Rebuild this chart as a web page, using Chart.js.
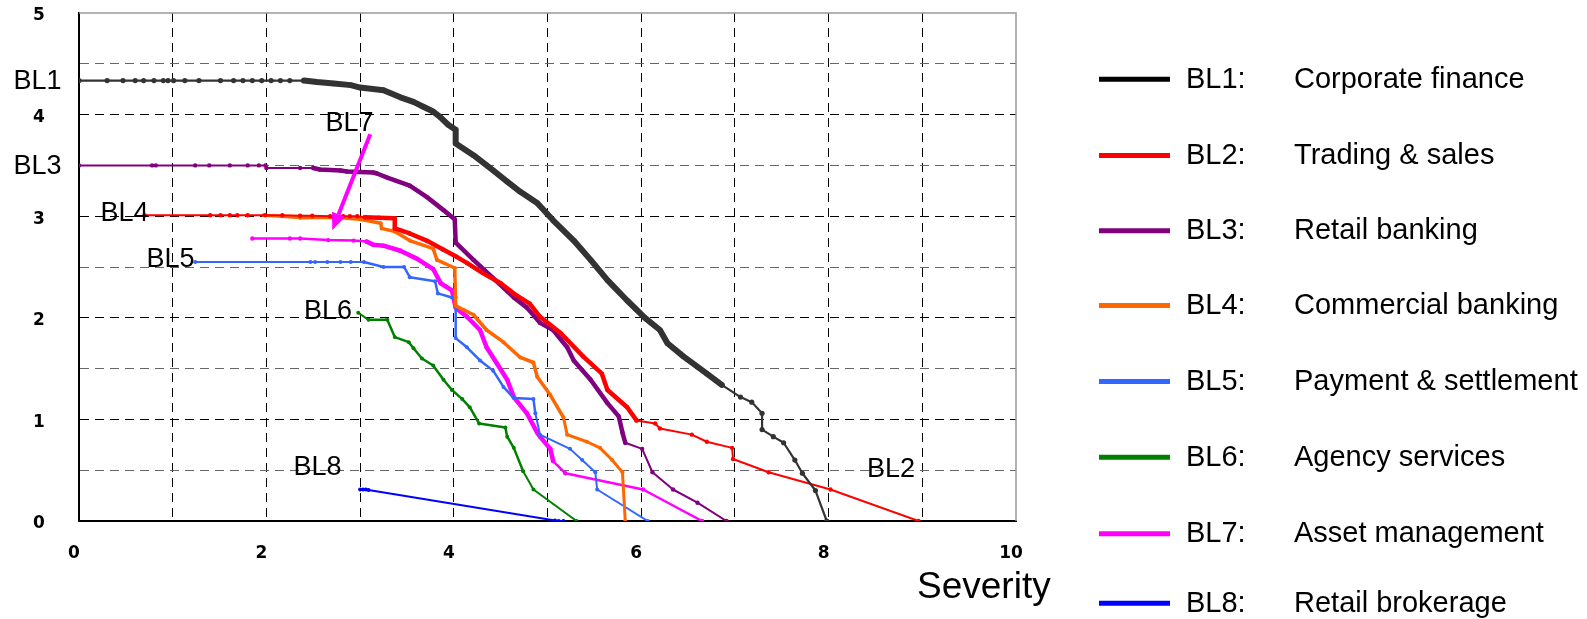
<!DOCTYPE html>
<html>
<head>
<meta charset="utf-8">
<title>Severity by business line</title>
<script src="https://cdn.jsdelivr.net/npm/chart.js@4.4.1/dist/chart.umd.min.js"></script>
<style>
  html, body { margin: 0; padding: 0; background: #fff; }
  #wrap { position: relative; width: 1587px; height: 619px; }
</style>
</head>
<body>
<div id="wrap"><canvas id="lossChart" width="1587" height="619"></canvas></div>
<script>
'use strict';
// ******* Business lines *******
const lineCodes = ['BL1', 'BL2', 'BL3', 'BL4', 'BL5', 'BL6', 'BL7', 'BL8'];
const lineNames = ['Corporate finance', 'Trading & sales', 'Retail banking', 'Commercial banking',
  'Payment & settlement', 'Agency services', 'Asset management', 'Retail brokerage'];
const lineColors = ['#333333', '#ff0000', '#800080', '#ff6600', '#3366ff', '#008000', '#ff00ff', '#0000ff'];
const keyColors = ['#000000', '#ff0000', '#800080', '#ff6600', '#3366ff', '#008000', '#ff00ff', '#0000ff'];

// ******* Curves: [severity, value] *******
const bl1 = [[0, 4.335], [0.30, 4.335], [0.47, 4.335], [0.60, 4.335], [0.69, 4.335], [0.80, 4.335], [0.90, 4.335],
  [0.95, 4.335], [1.01, 4.335], [1.13, 4.335], [1.28, 4.335], [1.51, 4.335], [1.65, 4.335], [1.75, 4.335],
  [1.85, 4.335], [1.95, 4.335], [2.05, 4.335], [2.15, 4.335], [2.25, 4.335], [2.40, 4.335], [2.54, 4.32],
  [2.72, 4.305], [2.90, 4.29], [3.00, 4.266], [3.25, 4.24], [3.43, 4.17], [3.57, 4.125], [3.68, 4.075],
  [3.78, 4.03], [3.85, 3.98], [3.94, 3.90], [4.02, 3.85], [4.02, 3.715], [4.21, 3.60], [4.42, 3.45],
  [4.57, 3.34], [4.71, 3.24], [4.89, 3.13], [5.06, 2.96], [5.28, 2.76], [5.46, 2.57], [5.64, 2.37],
  [5.85, 2.17], [6.04, 2.00], [6.20, 1.88], [6.28, 1.75], [6.45, 1.62], [6.70, 1.45], [6.86, 1.34],
  [7.06, 1.22], [7.18, 1.17], [7.29, 1.06], [7.29, 0.90], [7.41, 0.83], [7.52, 0.77], [7.64, 0.60],
  [7.72, 0.47], [7.86, 0.30], [7.98, 0]];
const bl2 = [[0.70, 3.01], [1.40, 3.01], [1.51, 3.01], [1.61, 3.01], [1.69, 3.01], [1.80, 3.01], [1.99, 3.01],
  [2.17, 3.01], [2.36, 3.005], [2.49, 3.005], [2.68, 3.0], [2.82, 3.0], [2.89, 3.0], [2.97, 3.0], [3.05, 2.99],
  [3.20, 2.985], [3.37, 2.98], [3.37, 2.88], [3.53, 2.83], [3.71, 2.76], [3.89, 2.67], [4.03, 2.60],
  [4.14, 2.54], [4.31, 2.44], [4.50, 2.34], [4.67, 2.22], [4.81, 2.14], [4.92, 2.01], [5.14, 1.85],
  [5.38, 1.62], [5.58, 1.45], [5.64, 1.29], [5.85, 1.12], [5.95, 0.99], [6.15, 0.96], [6.20, 0.91],
  [6.54, 0.85], [6.70, 0.78], [6.97, 0.72], [6.98, 0.61], [7.36, 0.48], [8.02, 0.31], [8.96, 0]];
const bl3 = [[0, 3.50], [0.78, 3.50], [0.82, 3.50], [1.24, 3.50], [1.39, 3.50], [1.61, 3.50], [1.80, 3.50],
  [1.92, 3.50], [1.99, 3.50], [2.00, 3.475], [2.36, 3.475], [2.50, 3.475], [2.57, 3.46], [2.79, 3.45],
  [2.86, 3.44], [3.14, 3.43], [3.18, 3.42], [3.29, 3.38], [3.53, 3.30], [3.71, 3.19], [3.89, 3.06],
  [4.01, 2.97], [4.02, 2.74], [4.21, 2.57], [4.42, 2.39], [4.64, 2.20], [4.78, 2.10], [4.92, 1.95],
  [5.06, 1.88], [5.21, 1.71], [5.28, 1.58], [5.46, 1.39], [5.64, 1.16], [5.76, 1.03], [5.80, 0.87],
  [5.83, 0.77], [6.01, 0.71], [6.12, 0.48], [6.34, 0.31], [6.60, 0.18], [6.91, 0]];
const bl4 = [[1.97, 3.01], [2.36, 2.985], [2.72, 2.99], [3.00, 2.97], [3.22, 2.93], [3.23, 2.88], [3.37, 2.85],
  [3.53, 2.76], [3.78, 2.68], [3.82, 2.57], [4.01, 2.49], [4.02, 2.12], [4.10, 2.08], [4.21, 2.03],
  [4.35, 1.88], [4.53, 1.76], [4.71, 1.61], [4.85, 1.56], [4.89, 1.42], [5.03, 1.24], [5.17, 1.02],
  [5.21, 0.85], [5.42, 0.78], [5.56, 0.72], [5.69, 0.60], [5.80, 0.48], [5.83, 0]];
const bl5 = [[1.24, 2.55], [2.47, 2.55], [2.52, 2.55], [2.65, 2.55], [2.79, 2.55], [2.90, 2.55], [3.04, 2.55],
  [3.25, 2.50], [3.47, 2.50], [3.53, 2.40], [3.80, 2.36], [3.83, 2.24], [3.98, 2.20], [4.02, 2.20],
  [4.02, 1.80], [4.14, 1.71], [4.28, 1.58], [4.42, 1.48], [4.53, 1.32], [4.64, 1.21], [4.85, 1.20],
  [4.87, 1.06], [4.92, 0.85], [5.24, 0.71], [5.37, 0.60], [5.51, 0.48], [5.53, 0.31], [6.07, 0]];
const bl6 = [[2.98, 2.05], [3.09, 1.98], [3.29, 1.98], [3.37, 1.81], [3.52, 1.76], [3.57, 1.70], [3.66, 1.60],
  [3.78, 1.53], [3.89, 1.39], [3.98, 1.29], [4.09, 1.20], [4.17, 1.12], [4.27, 0.96], [4.55, 0.92],
  [4.57, 0.83], [4.64, 0.72], [4.74, 0.49], [4.85, 0.31], [5.31, 0]];
const bl7 = [[1.85, 2.78], [2.25, 2.78], [2.36, 2.78], [2.66, 2.765], [2.93, 2.76], [3.07, 2.75], [3.14, 2.72],
  [3.25, 2.71], [3.43, 2.66], [3.61, 2.58], [3.78, 2.48], [3.86, 2.34], [3.98, 2.27], [4.02, 2.10],
  [4.14, 2.01], [4.28, 1.88], [4.35, 1.71], [4.46, 1.55], [4.57, 1.39], [4.64, 1.22], [4.78, 1.06],
  [4.89, 0.87], [4.92, 0.83], [5.03, 0.71], [5.06, 0.59], [5.19, 0.47], [6.02, 0.31], [6.65, 0]];
const bl8 = [[3.00, 0.31], [3.03, 0.31], [3.06, 0.31], [3.09, 0.305], [5.08, 0.005], [5.12, 0], [5.17, 0]];
const curves = [bl1, bl2, bl3, bl4, bl5, bl6, bl7, bl8];

// ******* Axes *******
const xTickLabels = [0, 2, 4, 6, 8, 10];
const yTickLabels = [0, 1, 2, 3, 4, 5];

// tag text anchors on the plot, axis units (left edge, baseline)
const tagSpots = [[-0.70, 4.25], [8.41, 0.43], [-0.70, 3.42], [0.23, 2.95], [0.72, 2.50], [2.40, 1.99], [2.63, 3.84], [2.29, 0.45]];
// the BL7 pointer, tail then head
const pointerFrom = [3.108, 3.807];
const pointerTo = [2.703, 2.862];

// line weights: thin base, heavier where the observations pile up
const lineStyles = [
  { base: 2.2, heavy: 6, from: 2.4, to: 7.0, dot: 2.6 },
  { base: 2, heavy: 4.5, from: 3.0, to: 5.96, dot: 2.2 },
  { base: 2, heavy: 4.5, from: 2.5, to: 5.84, dot: 2.2 },
  { base: 3, heavy: 3.5, from: 2.0, to: 5.2, dot: 2 },
  { base: 2, heavy: 2.5, from: 3.0, to: 4.9, dot: 2 },
  { base: 2, heavy: 2.5, from: 3.0, to: 4.8, dot: 2 },
  { base: 2.5, heavy: 4.5, from: 3.0, to: 5.07, dot: 2.2 },
  { base: 2, heavy: 2, from: 0, to: 0, dot: 2 }
];

const fontFamily = '"Liberation Sans", Arial, sans-serif';
const tickFont = { family: '"DejaVu Sans", sans-serif', size: 17, weight: 'bold' };

// ****** Datasets ******
let datasets = [];
for (let i = 0; i < curves.length; i++) {
  let st = lineStyles[i];
  datasets.push({
    label: lineCodes[i],
    data: curves[i].map(p => ({ x: p[0], y: p[1] })),
    showLine: true,
    borderColor: lineColors[i],
    backgroundColor: lineColors[i],
    borderWidth: st.base,
    borderJoinStyle: 'round',
    borderCapStyle: 'round',
    pointRadius: st.dot,
    pointBorderWidth: 0,
    pointBackgroundColor: lineColors[i],
    segment: {
      borderWidth: ctx => (ctx.p0.parsed.x >= st.from && ctx.p1.parsed.x <= st.to) ? st.heavy : st.base
    }
  });
}

// top and right edges of the plot frame
const plotFrame = {
  id: 'plotFrame',
  beforeDatasetsDraw(chart) {
    let a = chart.chartArea;
    let c = chart.ctx;
    c.save();
    c.strokeStyle = '#999';
    c.lineWidth = 1.5;
    c.beginPath();
    c.moveTo(a.left, a.top);
    c.lineTo(a.right, a.top);
    c.lineTo(a.right, a.bottom);
    c.stroke();
    c.restore();
  }
};

// BL tags, pointer, axis caption and the legend block
const notes = {
  id: 'notes',
  afterDatasetsDraw(chart) {
    let c = chart.ctx;
    let xs = chart.scales.x;
    let ys = chart.scales.y;
    let a = chart.chartArea;
    c.save();
    c.fillStyle = '#000';
    c.textAlign = 'left';
    c.textBaseline = 'alphabetic';
    c.font = '27px ' + fontFamily;
    for (let i = 0; i < tagSpots.length; i++) {
      c.fillText(lineCodes[i], xs.getPixelForValue(tagSpots[i][0]), ys.getPixelForValue(tagSpots[i][1]));
    }

    // pointer arrow for BL7
    let x0 = xs.getPixelForValue(pointerFrom[0]);
    let y0 = ys.getPixelForValue(pointerFrom[1]);
    let x1 = xs.getPixelForValue(pointerTo[0]);
    let y1 = ys.getPixelForValue(pointerTo[1]);
    let ang = Math.atan2(y1 - y0, x1 - x0);
    let headLen = 17;
    let headHalf = 7;
    let bx = x1 - headLen * Math.cos(ang);
    let by = y1 - headLen * Math.sin(ang);
    c.strokeStyle = lineColors[6];
    c.fillStyle = lineColors[6];
    c.lineWidth = 4;
    c.beginPath();
    c.moveTo(x0, y0);
    c.lineTo(bx, by);
    c.stroke();
    c.beginPath();
    c.moveTo(x1, y1);
    c.lineTo(bx + headHalf * Math.sin(ang), by - headHalf * Math.cos(ang));
    c.lineTo(bx - headHalf * Math.sin(ang), by + headHalf * Math.cos(ang));
    c.closePath();
    c.fill();

    // axis caption
    c.fillStyle = '#000';
    c.font = '37px ' + fontFamily;
    c.fillText('Severity', a.right - 99, a.bottom + 77);

    // legend
    const keyBaselines = [87.7, 164, 239.3, 314, 390, 465.7, 542.3, 611.7];
    c.font = '29px ' + fontFamily;
    for (let i = 0; i < lineCodes.length; i++) {
      let yb = keyBaselines[i];
      c.strokeStyle = keyColors[i];
      c.lineWidth = 5;
      c.beginPath();
      c.moveTo(a.right + 83, yb - 8.5);
      c.lineTo(a.right + 154, yb - 8.5);
      c.stroke();
      c.fillStyle = '#000';
      c.fillText(lineCodes[i] + ':', a.right + 170, yb);
      c.fillText(lineNames[i], a.right + 278, yb);
    }
    c.restore();
  }
};

let ctx = document.getElementById('lossChart');

let chartObj = {
  type: 'scatter',
  data: { datasets: datasets },
  options: {
    responsive: false,
    animation: false,
    devicePixelRatio: 1,
    layout: { padding: { left: 33, right: 571, top: 13, bottom: 0 } },
    plugins: {
      legend: { display: false },
      tooltip: { enabled: false }
    },
    scales: {
      x: {
        type: 'linear',
        min: 0,
        max: 10,
        afterFit: scale => { scale.height = 98; },
        ticks: {
          stepSize: 1,
          autoSkip: false,
          maxRotation: 0,
          padding: 22,
          labelOffset: -5,
          color: '#000',
          font: tickFont,
          callback: v => xTickLabels.includes(v) ? String(v) : ''
        },
        grid: {
          drawTicks: false,
          lineWidth: 1,
          color: c => (c.tick && (c.tick.value === 0 || c.tick.value === 10)) ? 'rgba(0,0,0,0)' : '#000'
        },
        border: { display: true, color: '#000', width: 2, dash: [9, 6] }
      },
      y: {
        type: 'linear',
        min: 0,
        max: 5,
        afterFit: scale => { scale.width = 46; },
        ticks: {
          stepSize: 0.5,
          autoSkip: false,
          padding: 0,
          crossAlign: 'far',
          labelOffset: 3,
          color: '#000',
          font: tickFont,
          callback: v => yTickLabels.includes(v) ? String(v) : ''
        },
        grid: {
          drawTicks: false,
          lineWidth: 1,
          color: c => {
            if (!c.tick || c.tick.value === 0 || c.tick.value === 5) return 'rgba(0,0,0,0)';
            return c.tick.value % 1 === 0 ? '#000' : '#666';
          }
        },
        border: { display: true, color: '#000', width: 2, dash: [9, 6] }
      }
    }
  },
  plugins: [plotFrame, notes]
};

new Chart(ctx, chartObj);
</script>
</body>
</html>
